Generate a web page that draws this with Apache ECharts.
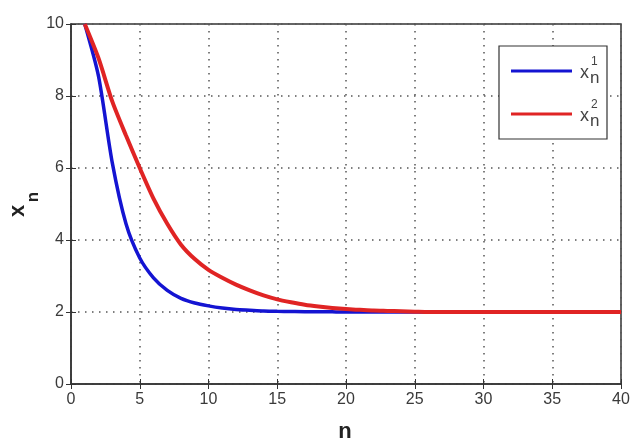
<!DOCTYPE html>
<html>
<head>
<meta charset="utf-8" />
<title>x_n</title>
<script src="https://cdn.jsdelivr.net/npm/echarts@6/dist/echarts.min.js"></script>
<style>
  html, body { margin: 0; padding: 0; background: #fff; }
</style>
</head>
<body>
<div id="main" style="width:633px;height:441px;"></div>
<script type="text/javascript">
// n = 1..40
var nValues = [];
for (var i = 1; i <= 40; i++) nValues.push(i);

// values
var x1Values = [10, 8.55, 6.15, 4.45, 3.5, 2.95, 2.6, 2.38, 2.25, 2.17,
  2.11, 2.07, 2.05, 2.03, 2.02, 2.015, 2.01, 2.01, 2.005, 2.0,
  2, 2, 2, 2, 2, 2, 2, 2, 2, 2,
  2, 2, 2, 2, 2, 2, 2, 2, 2, 2];
var x2Values = [10, 9.05, 7.85, 6.9, 6.0, 5.15, 4.45, 3.87, 3.47, 3.17,
  2.95, 2.76, 2.6, 2.46, 2.35, 2.27, 2.2, 2.15, 2.11, 2.08,
  2.06, 2.04, 2.03, 2.02, 2.01, 2.0, 2, 2, 2, 2,
  2, 2, 2, 2, 2, 2, 2, 2, 2, 2];

var xTicks = [0, 5, 10, 15, 20, 25, 30, 35, 40];
var yTicks = [0, 2, 4, 6, 8, 10];

function pairs(vals) {
  return nValues.map(function (n, i) { return [n, vals[i]]; });
}

var font = 'Liberation Sans, Arial, sans-serif';
var gridLine = { show: true, lineStyle: { color: '#555', type: [1.5, 5.5], width: 1.5 } };
var myChart = echarts.init(document.getElementById('main'));

var option = {
  backgroundColor: '#fff',
  animation: false,
  grid: {
    left: 71, right: 12, top: 24, bottom: 57,
    show: true, borderColor: '#333', borderWidth: 1.5, backgroundColor: 'transparent'
  },
  xAxis: [{
    type: 'value', min: xTicks[0], max: xTicks[xTicks.length - 1], interval: 5,
    axisLine: { show: true, lineStyle: { color: '#333', width: 1.5 } },
    axisTick: { show: true, inside: true, length: 5, lineStyle: { color: '#333' } },
    axisLabel: { color: '#3a3a3a', fontFamily: font, fontSize: 16, margin: 8 },
    splitLine: gridLine
  }, {
    type: 'value', position: 'top', min: 0, max: 40, interval: 5,
    axisLine: { show: false },
    axisTick: { show: true, inside: true, length: 5, lineStyle: { color: '#333' } },
    axisLabel: { show: false }, splitLine: { show: false }
  }],
  yAxis: [{
    type: 'value', min: yTicks[0], max: yTicks[yTicks.length - 1], interval: 2,
    axisLine: { show: true, lineStyle: { color: '#333', width: 1.5 } },
    axisTick: { show: true, inside: true, length: 5, lineStyle: { color: '#333' } },
    axisLabel: { color: '#3a3a3a', fontFamily: font, fontSize: 16, margin: 7 },
    splitLine: gridLine
  }, {
    type: 'value', position: 'right', min: 0, max: 10, interval: 2,
    axisLine: { show: false },
    axisTick: { show: true, inside: true, length: 5, lineStyle: { color: '#333' } },
    axisLabel: { show: false }, splitLine: { show: false }
  }],
  series: [{
    name: 'x1', type: 'line', data: pairs(x1Values), smooth: 0.25,
    showSymbol: false, z: 3,
    lineStyle: { color: '#1414d2', width: 3.5 }
  }, {
    name: 'x2', type: 'line', data: pairs(x2Values), smooth: 0.25,
    showSymbol: false, z: 4,
    lineStyle: { color: '#e02424', width: 4 }
  }],
  graphic: [
    // legend box
    { type: 'rect', shape: { x: 499, y: 46, width: 108, height: 93 },
      style: { fill: '#fff', stroke: '#333', lineWidth: 1.2 }, z: 10 },
    { type: 'line', shape: { x1: 511, y1: 71, x2: 572, y2: 71 },
      style: { stroke: '#1414d2', lineWidth: 3 }, z: 11 },
    { type: 'line', shape: { x1: 511, y1: 114, x2: 572, y2: 114 },
      style: { stroke: '#e02424', lineWidth: 3 }, z: 11 },
    { type: 'text', x: 580, y: 64, z: 11,
      style: { text: 'x', fontFamily: font, fontSize: 18, fill: '#444' } },
    { type: 'text', x: 591, y: 56, z: 11,
      style: { text: '1', fontFamily: font, fontSize: 12, fill: '#444' } },
    { type: 'text', x: 590, y: 70, z: 11,
      style: { text: 'n', fontFamily: font, fontSize: 17, fill: '#444' } },
    { type: 'text', x: 580, y: 107, z: 11,
      style: { text: 'x', fontFamily: font, fontSize: 18, fill: '#444' } },
    { type: 'text', x: 591, y: 99, z: 11,
      style: { text: '2', fontFamily: font, fontSize: 12, fill: '#444' } },
    { type: 'text', x: 590, y: 113, z: 11,
      style: { text: 'n', fontFamily: font, fontSize: 17, fill: '#444' } },
    // axis names
    { type: 'text', x: 345, y: 432,
      style: { text: 'n', fontFamily: font, fontSize: 22, fontWeight: 'bold', fill: '#222',
        align: 'center', verticalAlign: 'middle' } },
    { type: 'text', x: 18, y: 211, rotation: Math.PI / 2,
      style: { text: 'x', fontFamily: font, fontSize: 22, fontWeight: 'bold', fill: '#222',
        align: 'center', verticalAlign: 'middle' } },
    { type: 'text', x: 33, y: 197, rotation: Math.PI / 2,
      style: { text: 'n', fontFamily: font, fontSize: 17, fontWeight: 'bold', fill: '#222',
        align: 'center', verticalAlign: 'middle' } }
  ]
};

myChart.setOption(option);
</script>
</body>
</html>
